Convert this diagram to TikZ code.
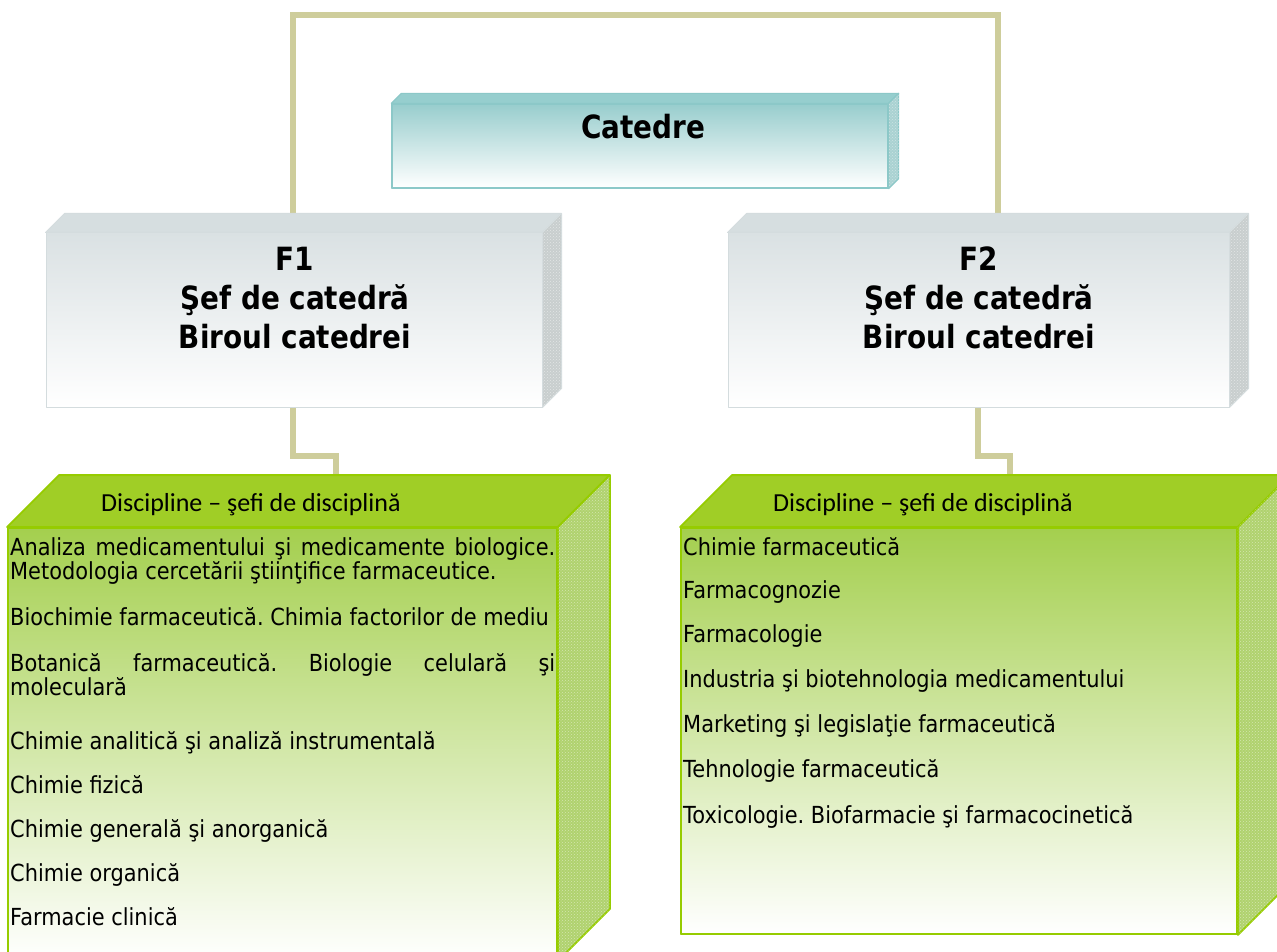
\documentclass[tikz,border=0pt]{standalone}
\usepackage{fontspec}
\setmainfont{DejaVu Sans}
\newfontfamily\tah[FakeStretch=0.87]{DejaVu Sans}
\newfontfamily\tahl[FakeStretch=0.89]{DejaVu Sans}
\newfontfamily\calfont{Carlito}
\usetikzlibrary{calc,patterns}
\frenchspacing
\definecolor{connc}{RGB}{206,205,155}
\definecolor{grnedge}{RGB}{150,204,0}
\definecolor{grntop}{RGB}{160,206,38}
\definecolor{grnfront}{RGB}{164,207,78}
\definecolor{grnside}{RGB}{176,210,110}
\definecolor{grayedge}{RGB}{212,220,222}
\definecolor{graytop}{RGB}{214,222,224}
\definecolor{grayfront}{RGB}{218,225,227}
\definecolor{grayside}{RGB}{200,206,206}
\definecolor{tealedge}{RGB}{140,200,200}
\definecolor{tealtop}{RGB}{150,206,206}
\definecolor{tealfront}{RGB}{152,205,205}
\definecolor{tealside}{RGB}{170,210,210}
\tikzset{
  conn/.style={draw=connc, line width=6pt},
  faceg/.style={draw=grnedge, line width=1.8pt, line join=round},
  facegray/.style={draw=grayedge, line width=1pt, line join=round},
  faceteal/.style={draw=tealedge, line width=1.2pt, line join=round},
  gfront/.style={faceg, top color=grnfront, bottom color=white, inner sep=0pt},
  grfront/.style={facegray, top color=grayfront, bottom color=white, inner sep=0pt},
  tfront/.style={faceteal, top color=tealfront, bottom color=white, inner sep=0pt},
  headtxt/.style={inner sep=0pt, anchor=base, font=\tah\bfseries\fontsize{32}{39}\selectfont, align=center},
  listtxt/.style={inner sep=0pt, anchor=base west, font=\tahl\fontsize{23.5}{24}\selectfont},
  distxt/.style={inner sep=0pt, anchor=base west, font=\calfont\fontsize{26}{30}\selectfont},
}
\newcommand\topface[3]{% node, depth, style
  \path[#3] (#1.north west) -- ++(#2,-#2) -- ($(#1.north east)+(#2,-#2)$) -- (#1.north east) -- cycle;}
\newcommand\sideface[3]{%
  \path[#3] (#1.north east) -- ++(#2,-#2) -- ($(#1.south east)+(#2,-#2)$) -- (#1.south east) -- cycle;}
\begin{document}
\begin{tikzpicture}[x=1pt,y=-1pt]
\useasboundingbox[fill=white] (0,0) rectangle (1277,952);
% fronts (nodes)
\node[tfront, minimum width=496pt, minimum height=84pt] (cat) at (640,146) {};
\node[grfront, minimum width=496pt, minimum height=174pt] (f1) at (294,320) {};
\node[grfront, minimum width=501pt, minimum height=174pt] (f2) at (978.5,320) {};
\node[gfront, minimum width=549pt, minimum height=432pt] (g1) at (282.5,744) {};
\node[gfront, minimum width=556pt, minimum height=406pt] (g2) at (959,731) {};
% connection points
\coordinate (f1t) at ($(f1.north)+(-1,-19)$);
\coordinate (f2t) at ($(f2.north)+(19.5,-19)$);
\coordinate (top) at (0,15);
\coordinate (f1b) at ($(f1.south)+(-1,0)$);
\coordinate (f2b) at ($(f2.south)+(-0.5,0)$);
\coordinate (g1t) at ($(g1.north)+(53,-51)$);
\coordinate (g2t) at ($(g2.north)+(51,-51)$);
% connectors (behind boxes)
\draw[conn] (f1t) -- (f1t |- top) -- (f2t |- top) -- (f2t);
\draw[conn] (f1b) -- ++(0,48) -| (g1t);
\draw[conn] (f2b) -- ++(0,48) -| (g2t);
% redraw fronts over connectors
\node[tfront, minimum width=496pt, minimum height=84pt] (catB) at (cat) {};
\node[grfront, minimum width=496pt, minimum height=174pt] (f1B) at (f1) {};
\node[grfront, minimum width=501pt, minimum height=174pt] (f2B) at (f2) {};
\node[gfront, minimum width=549pt, minimum height=432pt] (g1B) at (g1) {};
\node[gfront, minimum width=556pt, minimum height=406pt] (g2B) at (g2) {};
% top and side faces
\topface{cat}{10}{faceteal, fill=tealtop}
\sideface{cat}{10}{faceteal, fill=tealside}
\sideface{cat}{10}{pattern=crosshatch dots, pattern color=white!40!tealside}
\topface{f1}{19}{facegray, fill=graytop}
\sideface{f1}{19}{facegray, fill=grayside}
\sideface{f1}{19}{pattern=crosshatch dots, pattern color=white!50!grayside}
\topface{f2}{19}{facegray, fill=graytop}
\sideface{f2}{19}{facegray, fill=grayside}
\sideface{f2}{19}{pattern=crosshatch dots, pattern color=white!50!grayside}
\topface{g1}{52}{faceg, fill=grntop}
\sideface{g1}{52}{faceg, fill=grnside}
\sideface{g1}{52}{pattern=crosshatch dots, pattern color=white!45!grnside}
\topface{g2}{52}{faceg, fill=grntop}
\sideface{g2}{52}{faceg, fill=grnside}
\sideface{g2}{52}{pattern=crosshatch dots, pattern color=white!45!grnside}
% texts
\node[headtxt] (catt) at (643,139) {Catedre};
\node[headtxt] (f1a) at (295,270) {F1};
\node[headtxt] (f1c) at (295,309) {Şef de catedră};
\node[headtxt] (f1d) at (295,348) {Biroul catedrei};
\node[headtxt] (f2a) at (979,270) {F2};
\node[headtxt] (f2c) at (979,309) {Şef de catedră};
\node[headtxt] (f2d) at (979,348) {Biroul catedrei};
\node[distxt] (d1) at (101,511) {Discipline – şefi de disciplină};
\node[distxt] (d2) at (773,511) {Discipline – şefi de disciplină};
% left list
\node[listtxt] (l1a) at (10,555) {\makebox[545pt][s]{Analiza medicamentului şi medicamente biologice.}};
\node[listtxt] (l1b) at (10,579) {Metodologia cercetării ştiinţifice farmaceutice.};
\node[listtxt] (l2) at (10,625) {Biochimie farmaceutică. Chimia factorilor de mediu};
\node[listtxt] (l3a) at (10,671) {\makebox[545pt][s]{Botanică farmaceutică. Biologie celulară şi}};
\node[listtxt] (l3b) at (10,695) {moleculară};
\node[listtxt] (l4) at (10,749) {Chimie analitică şi analiză instrumentală};
\node[listtxt] (l5) at (10,793) {Chimie fizică};
\node[listtxt] (l6) at (10,837) {Chimie generală şi anorganică};
\node[listtxt] (l7) at (10,881) {Chimie organică};
\node[listtxt] (l8) at (10,925) {Farmacie clinică};
% right list
\node[listtxt] (r1) at (683,555) {Chimie farmaceutică};
\node[listtxt] (r2) at (683,598) {Farmacognozie};
\node[listtxt] (r3) at (683,642) {Farmacologie};
\node[listtxt] (r4) at (683,687) {Industria şi biotehnologia medicamentului};
\node[listtxt] (r5) at (683,732) {Marketing şi legislaţie farmaceutică};
\node[listtxt] (r6) at (683,777) {Tehnologie farmaceutică};
\node[listtxt] (r7) at (683,823) {Toxicologie. Biofarmacie şi farmacocinetică};
\end{tikzpicture}
\end{document}
